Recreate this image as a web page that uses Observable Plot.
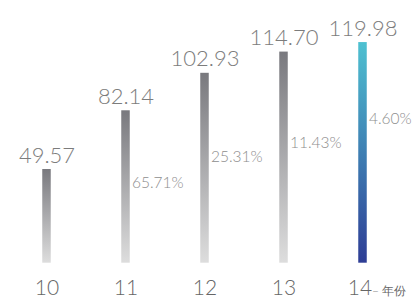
<!DOCTYPE html>
<html>
<head>
<meta charset="utf-8">
<script src="https://cdn.jsdelivr.net/npm/d3@7"></script>
<script src="https://cdn.jsdelivr.net/npm/@observablehq/plot@0.6"></script>
<style>
  html, body { margin: 0; padding: 0; background: #fff; }
  svg { font-family: Lato, Roboto, "Liberation Sans", sans-serif; }
</style>
</head>
<body>
<div id="chart"></div>
<script>
// Data
const years = ["10", "11", "12", "13", "14"];
const values = [49.57, 82.14, 102.93, 114.70, 119.98];
const growth = ["", "65.71%", "25.31%", "11.43%", "4.60%"];
// height (in value units) at which each growth label sits
const growthLabelAt = [null, 42, 56.4, 64, 77.8];
const unitLabel = "– 年份";

const yMin = -2.4;
const data = years.map((year, i) => ({year, value: values[i], growth: growth[i], at: growthLabelAt[i]}));
const grey = data.filter(d => d.year !== "14");
const last = data.filter(d => d.year === "14");

const defs = () => {
  const g = d3.create("svg:defs");
  const mk = (id, top, bottom) => {
    const lg = g.append("linearGradient").attr("id", id).attr("x1", 0).attr("y1", 0).attr("x2", 0).attr("y2", 1);
    lg.append("stop").attr("offset", "0%").attr("stop-color", top);
    lg.append("stop").attr("offset", "100%").attr("stop-color", bottom);
  };
  mk("gGray", "#79797e", "#dddddd");
  mk("gBlue", "#4ec1d1", "#2e3d95");
  return g.node();
};

const chart = Plot.plot({
  width: 414,
  height: 298,
  marginLeft: 5.5,
  marginRight: 11,
  marginTop: 24,
  marginBottom: 35.3,
  x: {domain: years, padding: 0, axis: null},
  y: {domain: [yMin, 130], axis: null},
  marks: [
    defs,
    Plot.barY(grey, {x: "year", y1: yMin, y2: "value", fill: "url(#gGray)", insetLeft: 35.25, insetRight: 35.25}),
    Plot.barY(last, {x: "year", y1: yMin, y2: "value", fill: "url(#gBlue)", insetLeft: 35.25, insetRight: 35.25}),
    Plot.text(data, {x: "year", y: "value", text: d => d.value.toFixed(2), lineAnchor: "bottom", dy: -7, fontSize: 22, fontWeight: 300, fill: "#7c7c7c"}),
    Plot.text(data.filter(d => d.at != null), {x: "year", y: "at", text: "growth", textAnchor: "start", lineAnchor: "middle", dx: 6, fontSize: 15.5, fontWeight: 300, fill: "#8e8e8e"}),
    Plot.text(grey, {x: "year", y: yMin, text: "year", lineAnchor: "bottom", dy: 32, fontSize: 21, fontWeight: 300, fill: "#666"}),
    Plot.text(last, {x: "year", y: yMin, text: "year", lineAnchor: "bottom", dy: 32, dx: -3, fontSize: 21, fontWeight: 300, fill: "#666"}),
    Plot.text(last, {x: "year", y: yMin, text: () => unitLabel, textAnchor: "start", lineAnchor: "bottom", dy: 32, dx: 9, fontSize: 12, fontWeight: 300, fill: "#666"})
  ]
});
document.getElementById("chart").appendChild(chart);
</script>
</body>
</html>
